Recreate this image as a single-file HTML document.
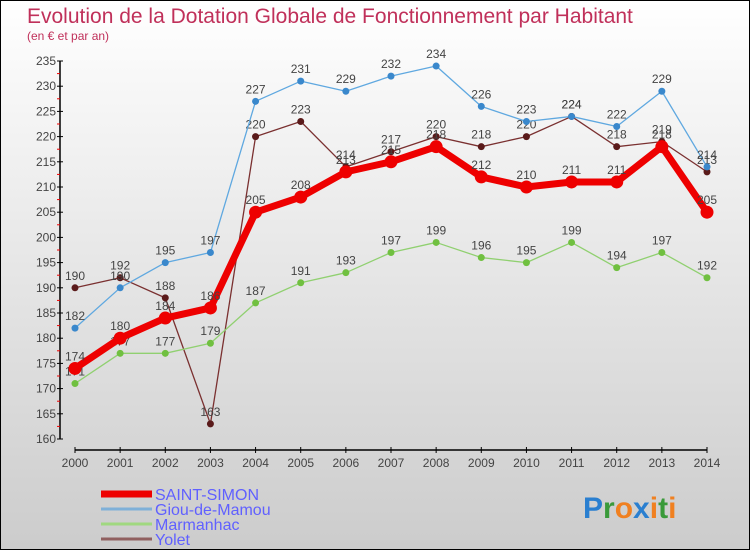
<!DOCTYPE html>
<html><head><meta charset="utf-8"><style>
html,body{margin:0;padding:0}
body{width:750px;height:550px;overflow:hidden;font-family:"Liberation Sans",sans-serif}
#wrap{position:relative;width:748px;height:548px;border:1px solid #000;background:linear-gradient(#ffffff,#cccccc)}
</style></head><body>
<div id="wrap">
<svg id="chart" width="748" height="548">
<text x="26" y="22" font-size="21" fill="#c0305a">Evolution de la Dotation Globale de Fonctionnement par Habitant</text>
<text x="26" y="39" font-size="12" fill="#c0305a">(en € et par an)</text>
<g id="axes"></g><g id="series"></g><g id="legend"></g>
<text x="582" y="517" font-size="30" font-weight="bold" font-family="Liberation Sans,sans-serif"><tspan fill="#2a7fd0">P</tspan><tspan fill="#3a9a3a">r</tspan><tspan fill="#f08020">o</tspan><tspan fill="#2a7fd0">x</tspan><tspan fill="#f08020">i</tspan><tspan fill="#3a9a3a">t</tspan><tspan fill="#f08020">i</tspan></text>
</svg>
</div>
<script>
const years=[2000,2001,2002,2003,2004,2005,2006,2007,2008,2009,2010,2011,2012,2013,2014];
const saintSimon=[174,180,184,186,205,208,213,215,218,212,210,211,211,218,205];
const giou=[182,190,195,197,227,231,229,232,234,226,223,224,222,229,214];
const marmanhac=[171,177,177,179,187,191,193,197,199,196,195,199,194,197,192];
const yolet=[190,192,188,163,220,223,214,217,220,218,220,224,218,219,213];
const yTicks=[160,165,170,175,180,185,190,195,200,205,210,215,220,225,230,235];
const NS='http://www.w3.org/2000/svg';
const X=i=>74+i*(632/14);
const Y=v=>438-(v-160)*(378/75);
function mk(tag,attrs,parent){const e=document.createElementNS(NS,tag);for(const k in attrs)e.setAttribute(k,attrs[k]);parent.appendChild(e);return e;}
const axes=document.getElementById('axes');
let a=mk('line',{x1:59,y1:Y(235),x2:59,y2:Y(160),stroke:'#000','stroke-width':1.5},axes);


yTicks.forEach(v=>{
  let t=mk('line',{x1:56,x2:62,y1:Y(v),y2:Y(v),stroke:'#000'},axes);
  
  
  if(v<235){let m=mk('line',{x1:56,x2:59,y1:Y(v+2.5),y2:Y(v+2.5),stroke:'#e00'},axes);
  
  }
  let l=mk('text',{x:55,y:Y(v)+4,'font-size':12,fill:'#444','text-anchor':'end'},axes);l.textContent=v;
  
  
});
let xa=mk('line',{x1:X(0),y1:449,x2:X(14),y2:449,stroke:'#000','stroke-width':1.5},axes);


years.forEach((yr,i)=>{
  let t=mk('line',{x1:X(i),x2:X(i),y1:446,y2:452,stroke:'#000'},axes);
  
  
  let l=mk('text',{x:X(i),y:466,'font-size':12,fill:'#444','text-anchor':'middle'},axes);l.textContent=yr;
  
  
});
const series=[
 {name:'yolet',d:yolet,c:'#7a3030',pc:'#5a1a1a',w:1.3,r:3.5},
 {name:'marmanhac',d:marmanhac,c:'#90d070',pc:'#70c040',w:1.3,r:3.5},
 {name:'giou-de-mamou',d:giou,c:'#5fa8e0',pc:'#3a88cc',w:1.3,r:3.5},
 {name:'saint-simon',d:saintSimon,c:'#ee0000',pc:'#ee0000',w:7,r:6.5}
];
const sg=document.getElementById('series');
series.forEach(s=>{
  const g=mk('g',{},sg);
  
  
  let p=mk('polyline',{points:s.d.map((v,i)=>X(i)+','+Y(v)).join(' '),fill:'none',stroke:s.c,'stroke-width':s.w,'stroke-linejoin':'round'},g);
  
  
  s.d.forEach((v,i)=>{
    let c=mk('circle',{cx:X(i),cy:Y(v),r:s.r,fill:s.pc},g);
    
    
    let t=mk('text',{x:X(i),y:Y(v)-8,'font-size':12,fill:'#444','text-anchor':'middle'},g);t.textContent=v;
    
    
  });
});
const lg=document.getElementById('legend');
[['SAINT-SIMON','#ee0000',7],['Giou-de-Mamou','#7fb0d8',3],['Marmanhac','#a0d880',3],['Yolet','#906060',3]].forEach((e,i)=>{
  const y=493+i*15;
  const g=mk('g',{},lg);
  
  
  mk('line',{x1:100,x2:151,y1:y,y2:y,stroke:e[1],'stroke-width':e[2]},g);
  let t=mk('text',{x:154,y:y+6,'font-size':16,fill:'#6060ff'},g);t.textContent=e[0];
});
</script>
</body></html>
